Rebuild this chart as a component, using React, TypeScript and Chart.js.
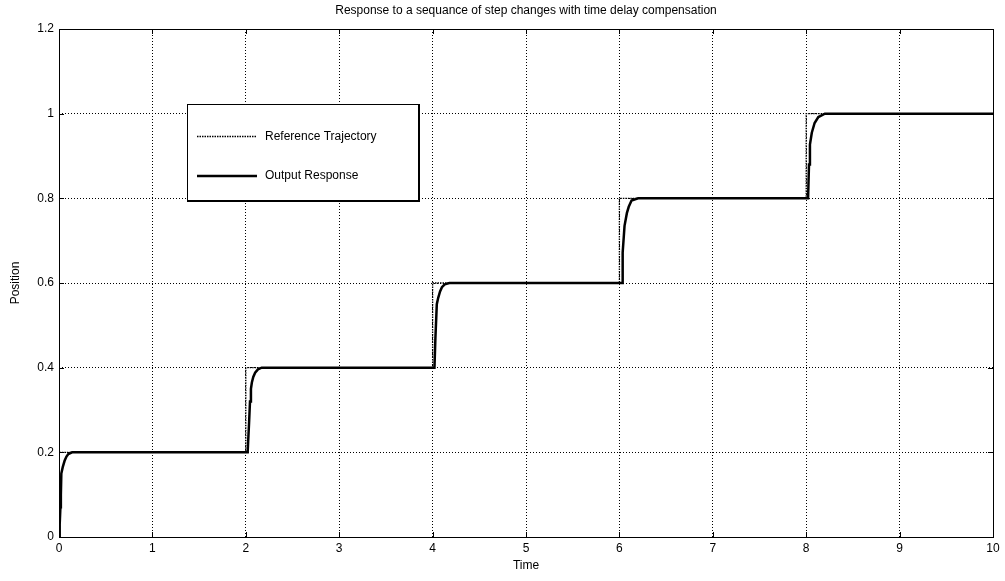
import React, { useEffect, useRef } from "react";
import { Chart, registerables } from "chart.js";

Chart.register(...registerables);

const chartTitle = "Response to a sequance of step changes with time delay compensation";
const xAxisTitle = "Time";
const yAxisTitle = "Position";
const legendLabels = ["Reference Trajectory", "Output Response"];

const xTickValues = [0, 1, 2, 3, 4, 5, 6, 7, 8, 9, 10];
const xTickLabels = ["0", "1", "2", "3", "4", "5", "6", "7", "8", "9", "10"];
const yTickValues = [0, 0.2, 0.4, 0.6, 0.8, 1, 1.2];
const yTickLabels = ["0", "0.2", "0.4", "0.6", "0.8", "1", "1.2"];

const refTime = [0, 0, 2, 2, 4, 4, 6, 6, 8, 8, 10];
const refPos = [0, 0.2, 0.2, 0.4, 0.4, 0.6, 0.6, 0.8, 0.8, 1.0, 1.0];

const outTime = [
  0, 0.005, 0.01, 0.015, 0.02, 0.025, 0.04, 0.06, 0.08, 0.1, 0.14,
  2.0, 2.02, 2.025, 2.035, 2.045, 2.055, 2.065, 2.08, 2.1, 2.13, 2.17,
  4.0, 4.02, 4.03, 4.045, 4.06, 4.08, 4.1, 4.13, 4.18,
  6.0, 6.03, 6.035, 6.055, 6.08, 6.1, 6.13, 6.2,
  8.0, 8.02, 8.03, 8.04, 8.06, 8.09, 8.13, 8.2, 10,
];
const outPos = [
  0, 0, 0.03, 0.07, 0.1, 0.15, 0.165, 0.18, 0.19, 0.196, 0.2,
  0.2, 0.2, 0.225, 0.27, 0.32, 0.35, 0.365, 0.378, 0.388, 0.396, 0.4,
  0.4, 0.4, 0.47, 0.55, 0.565, 0.58, 0.59, 0.597, 0.6,
  0.6, 0.6, 0.672, 0.735, 0.765, 0.78, 0.795, 0.8,
  0.8, 0.8, 0.88, 0.927, 0.955, 0.978, 0.992, 1.0, 1.0,
];

const FONT = "'Liberation Sans', Arial, sans-serif";
const PLOT = { left: 59, right: 993, top: 29, bottom: 537 };

const decorPlugin = {
  id: "decor",
  afterDraw(chart: any) {
    const ctx = chart.ctx as CanvasRenderingContext2D;
    const { left, right, top, bottom } = chart.chartArea;
    const xs = chart.scales.x;
    const ys = chart.scales.y;
    ctx.save();
    ctx.strokeStyle = "#000";
    ctx.lineWidth = 1;
    ctx.setLineDash([]);
    ctx.strokeRect(Math.round(left) + 0.5, Math.round(top) + 0.5, Math.round(right - left), Math.round(bottom - top));
    const tl = 5;
    ctx.beginPath();
    xTickValues.forEach((v) => {
      const px = Math.round(xs.getPixelForValue(v)) + 0.5;
      ctx.moveTo(px, bottom);
      ctx.lineTo(px, bottom - tl);
      ctx.moveTo(px, top);
      ctx.lineTo(px, top + tl);
    });
    yTickValues.forEach((v) => {
      const py = Math.round(ys.getPixelForValue(v)) + 0.5;
      ctx.moveTo(left, py);
      ctx.lineTo(left + tl, py);
      ctx.moveTo(right, py);
      ctx.lineTo(right - tl, py);
    });
    ctx.stroke();

    ctx.fillStyle = "#000";
    ctx.font = `12px ${FONT}`;
    ctx.textAlign = "center";
    ctx.textBaseline = "middle";
    ctx.fillText(chartTitle, (left + right) / 2, 11);
    ctx.fillText(xAxisTitle, (left + right) / 2, 566);
    ctx.save();
    ctx.translate(16, (top + bottom) / 2);
    ctx.rotate(-Math.PI / 2);
    ctx.fillText(yAxisTitle, 0, 0);
    ctx.restore();

    const lx = 187, ly = 104, lw = 231, lh = 96;
    ctx.fillStyle = "#fff";
    ctx.fillRect(lx, ly, lw, lh);
    ctx.strokeStyle = "#000";
    ctx.lineWidth = 1;
    ctx.strokeRect(lx + 0.5, ly + 0.5, lw, lh);
    ctx.lineWidth = 2;
    ctx.beginPath();
    ctx.moveTo(lx, ly + lh + 1);
    ctx.lineTo(lx + lw + 1, ly + lh + 1);
    ctx.lineTo(lx + lw + 1, ly);
    ctx.stroke();

    ctx.lineWidth = 1.3;
    ctx.setLineDash([1.5, 1]);
    ctx.beginPath();
    ctx.moveTo(197, 136.5);
    ctx.lineTo(257, 136.5);
    ctx.stroke();
    ctx.setLineDash([]);
    ctx.lineWidth = 2.5;
    ctx.beginPath();
    ctx.moveTo(197, 176);
    ctx.lineTo(257, 176);
    ctx.stroke();
    ctx.fillStyle = "#000";
    ctx.font = `12px ${FONT}`;
    ctx.textAlign = "left";
    ctx.textBaseline = "middle";
    ctx.fillText(legendLabels[0], 265, 137);
    ctx.fillText(legendLabels[1], 265, 176);
    ctx.restore();
  },
};

export default function App() {
  const ref = useRef<HTMLCanvasElement | null>(null);
  useEffect(() => {
    if (!ref.current) return;
    const chart = new Chart(ref.current, {
      type: "scatter",
      data: {
        datasets: [
          {
            label: legendLabels[0],
            data: refTime.map((t, i) => ({ x: t, y: refPos[i] })),
            showLine: true,
            borderColor: "#000",
            borderWidth: 1.3,
            borderDash: [1.5, 1],
            pointRadius: 0,
            fill: false,
            order: 2,
          },
          {
            label: legendLabels[1],
            data: outTime.map((t, i) => ({ x: t, y: outPos[i] })),
            showLine: true,
            borderColor: "#000",
            borderWidth: 2.5,
            pointRadius: 0,
            fill: false,
            order: 1,
          },
        ],
      },
      options: {
        responsive: false,
        animation: false,
        events: [],
        layout: { padding: { left: 0, top: PLOT.top, right: 1005 - PLOT.right, bottom: 0 } },
        plugins: { legend: { display: false }, title: { display: false }, tooltip: { enabled: false } },
        scales: {
          x: {
            type: "linear",
            min: 0,
            max: 10,
            afterBuildTicks: (s: any) => {
              s.ticks = xTickValues.map((v) => ({ value: v }));
            },
            afterFit: (s: any) => {
              s.height = 581 - PLOT.bottom;
            },
            ticks: {
              callback: (_v: any, i: number) => xTickLabels[i],
              color: "#000",
              font: { family: FONT, size: 12 },
              padding: 4,
              maxRotation: 0,
              autoSkip: false,
            },
            grid: { color: "#000", lineWidth: 1, drawTicks: false },
            border: { display: false, dash: [1, 2] },
          },
          y: {
            type: "linear",
            min: 0,
            max: 1.2,
            afterBuildTicks: (s: any) => {
              s.ticks = yTickValues.map((v) => ({ value: v }));
            },
            afterFit: (s: any) => {
              s.width = PLOT.left;
            },
            ticks: {
              callback: (_v: any, i: number) => yTickLabels[i],
              color: "#000",
              font: { family: FONT, size: 12 },
              padding: 5,
              autoSkip: false,
            },
            grid: { color: "#000", lineWidth: 1, drawTicks: false },
            border: { display: false, dash: [1, 2] },
          },
        },
      } as any,
      plugins: [decorPlugin],
    });
    return () => chart.destroy();
  }, []);
  return (
    <div style={{ position: "fixed", left: 0, top: 0, width: 1005, height: 581, background: "#fff" }}>
      <canvas ref={ref} width={1005} height={581} style={{ display: "block" }} />
    </div>
  );
}
